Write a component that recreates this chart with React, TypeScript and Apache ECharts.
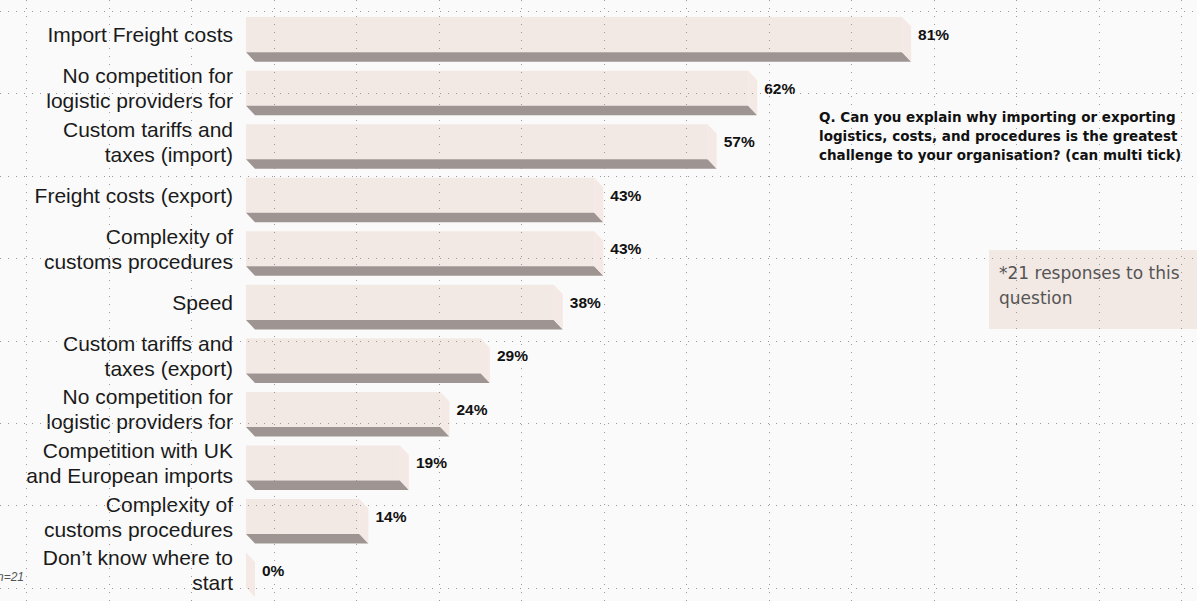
import React, { useEffect, useRef } from "react";
import * as echarts from "echarts";

const categories = [
  "Import Freight costs",
  "No competition for\nlogistic providers for",
  "Custom tariffs and\ntaxes (import)",
  "Freight costs (export)",
  "Complexity of\ncustoms procedures",
  "Speed",
  "Custom tariffs and\ntaxes (export)",
  "No competition for\nlogistic providers for",
  "Competition with UK\nand European imports",
  "Complexity of\ncustoms procedures",
  "Don’t know where to\nstart",
];
const values = [81, 62, 57, 43, 43, 38, 29, 24, 19, 14, 0];
const questionLines = [
  "Q. Can you explain why importing or exporting",
  "logistics, costs, and procedures is the greatest",
  "challenge to your organisation? (can multi tick)",
];
const noteText = "*21 responses to this\nquestion";
const footnote = "n=21";

const FONT = "'Liberation Sans', Arial, Helvetica, sans-serif";
const WIDE = "'DejaVu Sans', sans-serif";

export default function App() {
  const ref = useRef<HTMLDivElement>(null);
  useEffect(() => {
    if (!ref.current) return;
    const chart = echarts.init(ref.current, undefined, { renderer: "svg" });

    const gridLines: any[] = [];
    for (let k = 0; k < 15; k++) {
      const x = Math.round(26 + 82.5 * k) + 0.5;
      gridLines.push({
        type: "line",
        z: 100,
        silent: true,
        shape: { x1: x, y1: 0, x2: x, y2: 601 },
        style: { stroke: "#9a9a9a", lineWidth: 1, lineDash: [1, 7] },
      });
    }
    for (let k = 0; k < 8; k++) {
      const y = Math.round(11 + 82.4 * k) + 0.5;
      gridLines.push({
        type: "line",
        z: 100,
        silent: true,
        shape: { x1: 0, y1: y, x2: 1197, y2: y },
        style: { stroke: "#9a9a9a", lineWidth: 1, lineDash: [1, 7] },
      });
    }

    const option: any = {
      animation: false,
      backgroundColor: "#fafafa",
      grid: { left: 246, right: 141, top: 12, bottom: 0, containLabel: false },
      xAxis: {
        type: "value",
        min: 0,
        max: 100,
        show: false,
      },
      yAxis: {
        type: "category",
        inverse: true,
        data: categories,
        axisLine: { show: false },
        axisTick: { show: false },
        splitLine: { show: false },
        axisLabel: { show: false },
      },
      graphic: [
        {
          type: "rect",
          z: 1,
          shape: { x: 989, y: 250, width: 208, height: 79 },
          style: { fill: "#f2e8e4" },
        },
        {
          type: "text",
          z: 2,
          x: 999,
          y: 260,
          style: {
            text: noteText,
            font: `17px ${WIDE}`,
            lineHeight: 25,
            fill: "#555555",
          },
        },
        {
          type: "text",
          z: 2,
          x: 819,
          y: 107,
          style: {
            text: questionLines.join("\n"),
            font: `bold 13.5px ${WIDE}`,
            lineHeight: 19,
            fill: "#111111",
          },
        },
        {
          type: "text",
          z: 2,
          x: -3,
          y: 571,
          style: {
            text: footnote,
            font: `italic 12px ${FONT}`,
            fill: "#555555",
          },
        },
        ...gridLines,
      ],
      series: [
        {
          type: "custom",
          encode: { x: 0, y: 1 },
          data: values.map((v, i) => [v, i]),
          renderItem: (params: any, api: any) => {
            const v = api.value(0);
            const idx = api.value(1);
            const p0 = api.coord([0, idx]);
            const p1 = api.coord([v, idx]);
            const band = api.size([0, 1])[1];
            const top = p0[1] - 0.405 * band;
            const faceH = 0.655 * band;
            const depth = 0.178 * band;
            const dx = 9;
            const x0 = p0[0];
            const x1 = p1[0];
            const yb = top + faceH;
            const cy = top + faceH / 2;
            return {
              type: "group",
              children: [
                {
                  type: "rect",
                  shape: { x: x0, y: top, width: x1 - x0, height: faceH },
                  style: { fill: "#f2e8e4" },
                },
                {
                  type: "polygon",
                  shape: {
                    points: [
                      [x0, yb],
                      [x1, yb],
                      [x1 + dx, yb + depth],
                      [x0 + dx, yb + depth],
                    ],
                  },
                  style: { fill: "#9e9592" },
                },
                {
                  type: "polygon",
                  shape: {
                    points: [
                      [x1, top],
                      [x1 + dx, top + depth],
                      [x1 + dx, yb + depth],
                      [x1, yb],
                    ],
                  },
                  style: { fill: "#f5e9e5" },
                },
                {
                  type: "text",
                  x: x1 + dx + 7,
                  y: cy,
                  style: {
                    text: v + "%",
                    font: `bold 15.5px ${FONT}`,
                    fill: "#111111",
                    verticalAlign: "middle",
                    align: "left",
                  },
                },
                {
                  type: "text",
                  x: x0 - 13,
                  y: cy,
                  style: {
                    text: categories[idx],
                    font: `21px ${FONT}`,
                    lineHeight: 25,
                    fill: "#1a1a1a",
                    verticalAlign: "middle",
                    align: "right",
                  },
                },
              ],
            };
          },
        },
      ],
    };
    chart.setOption(option);
    return () => chart.dispose();
  }, []);
  return (
    <div
      ref={ref}
      style={{ position: "absolute", left: 0, top: 0, width: 1197, height: 601 }}
    />
  );
}
